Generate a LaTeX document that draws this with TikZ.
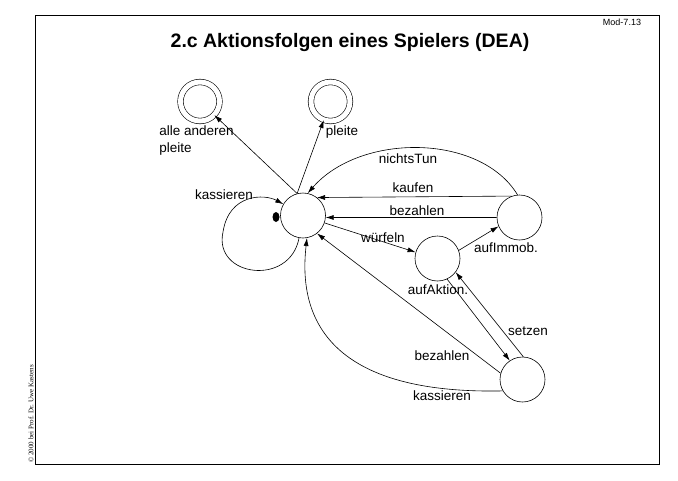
\documentclass[tikz,border=0pt]{standalone}
\usepackage{fontspec}
\setmainfont{Liberation Sans}
\newfontfamily\copyfont{Liberation Serif}
\usetikzlibrary{arrows.meta}

\begin{document}
\begin{tikzpicture}[x=1pt, y=-1pt, line width=0.6pt,
    zustand/.style={draw, circle, minimum size=45pt, inner sep=0pt},
    endzustand/.style={draw, circle, minimum size=39pt, inner sep=0pt, double, double distance=5pt},
    uebergang/.style={-{Latex[length=8pt,width=5pt]}},
    marke/.style={font=\fontsize{13.5}{17}\selectfont, inner sep=0pt}]

    \useasboundingbox (0,0) rectangle (678,480);

    % Rahmen der Folie
    \draw[line width=0.9pt] (35,15) rectangle (659,464);
    \node (modnr) at (622,22) {\fontsize{9}{10}\selectfont Mod-7.13};
    \node (copy) [rotate=90] at (31,414) {\copyfont\fontsize{7}{8}\selectfont \textcopyright\ 2000 bei Prof. Dr. Uwe Kastens};

    % Titel
    \node (titel) at (350,42) {\fontsize{19.5}{22}\selectfont\bfseries 2.c Aktionsfolgen eines Spielers (DEA)};

    % Zustaende
    \node (ende1) [endzustand] at (200,101.5) {};
    \node (ende2) [endzustand] at (330.5,101.5) {};
    \node (start) [zustand] at (303,215.5) {};
    \node (immob) [zustand] at (519.5,217.5) {};
    \node (aktion) [zustand] at (437.5,258.5) {};
    \node (setz) [zustand] at (522.5,379.5) {};

    % Startmarke
    \fill (276,217) ellipse (3.5 and 5);

    % Uebergaenge zu den Endzustaenden
    \draw[uebergang] (start.105) -- (ende1);
    \draw[uebergang] (start.105) -- (ende2);
    \node (lalle) [marke, anchor=north west, align=left] at (159,125) {alle anderen\\pleite};
    \node (lpleite) [marke] at (342,132) {pleite};

    % Schleife kassieren
    \draw[uebergang] (start.-100) .. controls (290,287) and (213,277) .. (223,232)
        .. controls (229,193) and (265,194) .. (start.150);
    \node (lkass1) [marke] at (224,195) {kassieren};

    % Uebergaenge von aufImmob.
    \draw[uebergang] (immob.95) .. controls (480,133) and (360,133) .. (start.78);
    \node (lnichts) [marke] at (408,159) {nichtsTun};
    \draw[uebergang] (immob.110) -- (start.52);
    \node (lkaufen) [marke] at (413,188) {kaufen};
    \draw[uebergang] (immob.west) -- (start.-5);
    \node (lbez1) [marke] at (417,211) {bezahlen};

    % wuerfeln
    \draw[uebergang] (start.-19) -- (aktion.164);
    \node (lwuerf) [marke] at (383,238) {würfeln};
    \draw[uebergang] (aktion.21) -- (immob.203);
    \node (limmob) [marke] at (506,248) {aufImmob.};
    \node (laktion) [marke] at (438,290) {aufAktion.};

    % setzen und zurueck
    \draw[uebergang] (aktion.-65) -- (setz.124);
    \draw[uebergang] (setz.88) -- (aktion.-37);
    \node (lsetzen) [marke] at (528,331) {setzen};
    \draw[uebergang] (setz.164) -- (start.-52);
    \node (lbez2) [marke] at (442,356) {bezahlen};
    \draw[uebergang] (setz.-150) .. controls (310,395) and (300,300) .. (start.-80);
    \node (lkass2) [marke] at (442,396) {kassieren};

\end{tikzpicture}
\end{document}
